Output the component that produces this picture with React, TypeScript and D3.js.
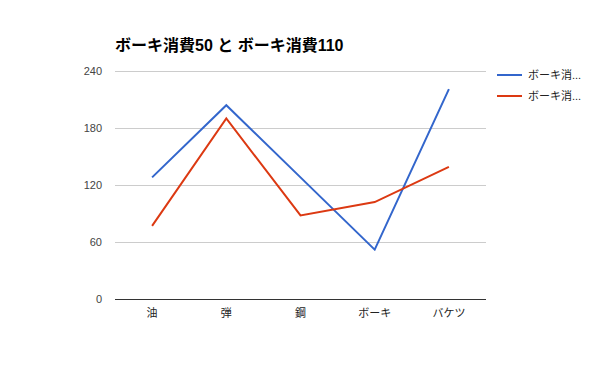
import { useEffect, useRef } from 'react';
import * as d3 from 'd3';

const categories = ['油', '弾', '鋼', 'ボーキ', 'バケツ'];
const series50 = [128, 204, 128, 52, 221];
const series110 = [77, 190, 88, 102, 139];
const seriesNames = ['ボーキ消費50', 'ボーキ消費110'];
const legendLabels = ['ボーキ消...', 'ボーキ消...'];
const yTicks = [0, 60, 120, 180, 240];
const colors = ['#3366cc', '#dc3912'];

const FONT = 'Arial, "Liberation Sans", "Noto Sans CJK JP", sans-serif';

const App = () => {
    const svgRef = useRef<SVGSVGElement | null>(null);

    useEffect(() => {
        const width = 600;
        const height = 371;
        const margin = { top: 71, right: 114, bottom: 72, left: 115 };

        const svg = d3.select(svgRef.current);
        svg.selectAll('*').remove();
        svg.attr('width', width).attr('height', height);

        svg.append('rect').attr('width', width).attr('height', height).attr('fill', '#fff');

        const x = d3.scaleBand()
            .domain(categories)
            .range([margin.left, width - margin.right]);

        const y = d3.scaleLinear()
            .domain([0, 240])
            .range([height - margin.bottom, margin.top]);

        // gridlines
        svg.append('g')
            .selectAll('line')
            .data(yTicks.filter(t => t !== 0))
            .enter()
            .append('line')
            .attr('x1', margin.left)
            .attr('x2', width - margin.right)
            .attr('y1', d => y(d) + 0.5)
            .attr('y2', d => y(d) + 0.5)
            .attr('stroke', '#cccccc')
            .attr('stroke-width', 1);

        // y tick labels
        svg.append('g')
            .selectAll('text')
            .data(yTicks)
            .enter()
            .append('text')
            .attr('x', margin.left - 13)
            .attr('y', d => y(d))
            .attr('dy', '0.35em')
            .attr('text-anchor', 'end')
            .attr('fill', '#444')
            .style('font-family', FONT)
            .style('font-size', '11px')
            .text(d => d);

        // x labels
        svg.append('g')
            .selectAll('text')
            .data(categories)
            .enter()
            .append('text')
            .attr('x', d => (x(d) ?? 0) + x.bandwidth() / 2)
            .attr('y', height - margin.bottom + 18)
            .attr('text-anchor', 'middle')
            .attr('fill', '#222')
            .style('font-family', FONT)
            .style('font-size', '11px')
            .text(d => d);

        // lines
        const line = d3.line<number>()
            .x((_, i) => (x(categories[i]) ?? 0) + x.bandwidth() / 2)
            .y(d => y(d));

        [series50, series110].forEach((s, i) => {
            svg.append('path')
                .datum(s)
                .attr('d', line)
                .attr('fill', 'none')
                .attr('stroke', colors[i])
                .attr('stroke-width', 2)
                .attr('stroke-linejoin', 'miter');
        });

        // baseline
        svg.append('line')
            .attr('x1', margin.left)
            .attr('x2', width - margin.right)
            .attr('y1', y(0) + 0.5)
            .attr('y2', y(0) + 0.5)
            .attr('stroke', '#333')
            .attr('stroke-width', 1);

        // title
        svg.append('text')
            .attr('x', margin.left)
            .attr('y', 51)
            .attr('fill', '#000')
            .style('font-family', FONT)
            .style('font-size', '16px')
            .style('font-weight', 'bold')
            .text(`${seriesNames[0]} と ${seriesNames[1]}`);

        // legend
        const legend = svg.append('g');
        legendLabels.forEach((label, i) => {
            const ly = 75 + i * 21;
            legend.append('line')
                .attr('x1', 497)
                .attr('x2', 522)
                .attr('y1', ly)
                .attr('y2', ly)
                .attr('stroke', colors[i])
                .attr('stroke-width', 2);
            legend.append('text')
                .attr('x', 528)
                .attr('y', ly)
                .attr('dy', '0.35em')
                .attr('fill', '#222')
                .style('font-family', FONT)
                .style('font-size', '11px')
                .text(label);
        });
    }, []);

    return <svg ref={svgRef} style={{ display: 'block', position: 'absolute', left: 0, top: 0 }} />;
};

export default App;
